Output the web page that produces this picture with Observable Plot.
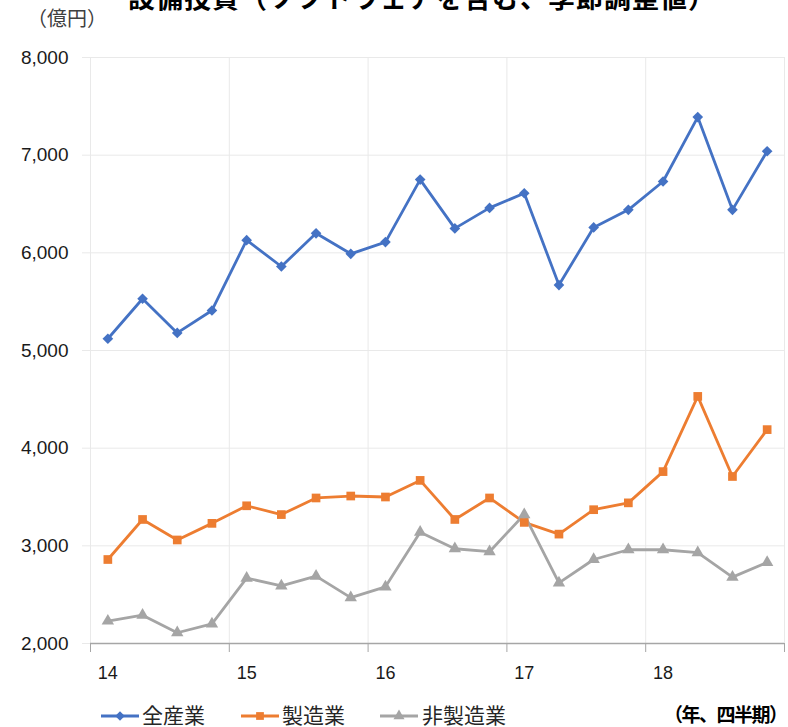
<!DOCTYPE html>
<html><head><meta charset="utf-8">
<script src="https://cdn.jsdelivr.net/npm/d3@7"></script>
<script src="https://cdn.jsdelivr.net/npm/@observablehq/plot@0.6"></script>
<style>
body{margin:0;background:#fff;}
#wrap{position:relative;width:788px;height:727px;overflow:hidden;font-family:"Noto Sans CJK JP",sans-serif;background:#fff;}
#title{position:absolute;top:-17px;left:128px;font-size:27px;line-height:27px;font-weight:bold;letter-spacing:1px;white-space:nowrap;color:#000;}
#unit{position:absolute;top:6px;left:27px;font-size:20px;line-height:24px;color:#404040;white-space:nowrap;}
#chart{position:absolute;top:0;left:0;}
.lg{position:absolute;top:702px;font-size:21px;line-height:24px;color:#262626;white-space:nowrap;}
.sw{position:absolute;top:708px;}
</style></head><body><div id="wrap">
<div id="title">設備投資（ソフトウェアを含む、季節調整値）</div>
<div id="unit">（億円）</div>
<div id="chart"></div>
</div>
<script>
const quarters = ["14Q1","14Q2","14Q3","14Q4","15Q1","15Q2","15Q3","15Q4","16Q1","16Q2","16Q3","16Q4","17Q1","17Q2","17Q3","17Q4","18Q1","18Q2","18Q3","18Q4"];
const yearLabels = ["14","15","16","17","18"];
const seriesNames = ["全産業","製造業","非製造業"];
const zensangyo = [5120,5530,5180,5410,6130,5860,6200,5990,6110,6750,6250,6460,6610,5670,6260,6440,6730,7390,6440,7040];
const seizogyo = [2860,3270,3060,3230,3410,3320,3490,3510,3500,3670,3270,3490,3240,3120,3370,3440,3760,4530,3710,4190];
const hiseizogyo = [2230,2290,2110,2200,2670,2590,2690,2470,2580,3140,2970,2940,3320,2620,2860,2960,2960,2930,2680,2830];
const yTicks = [2000,3000,4000,5000,6000,7000,8000];
const colors = ["#4472C4","#ED7D31","#A5A5A5"];
const symbols = ["diamond2","square","triangle"];
const radii = [4.8,4.9,4.6];
const seriesValues = [zensangyo, seizogyo, hiseizogyo];

const table = [];
seriesNames.forEach((s, k) => seriesValues[k].forEach((v, i) => table.push({series: s, k, i, q: quarters[i], value: v})));

const q1Idx = quarters.map((q, i) => q.endsWith("Q1") ? i : null).filter(i => i !== null);
const bounds = [...q1Idx.map(i => i - 0.5), quarters.length - 0.5];

const marks = [
  Plot.ruleY(yTicks.slice(1), {stroke: "#e9e9e9", strokeWidth: 1}),
  Plot.ruleX(bounds, {stroke: "#e9e9e9", strokeWidth: 1}),
  Plot.axisY(yTicks, {label: null, tickSize: 8, stroke: "#e9e9e9", tickPadding: 14, fontSize: 19, fill: "#1a1a1a", fontFamily: "Liberation Sans, Arial, sans-serif", tickFormat: d3.format(",")}),
  Plot.ruleY([2000], {stroke: "#a6a6a6", strokeWidth: 1.3}),
  Plot.axisX(bounds, {label: null, tickSize: 9, stroke: "#a6a6a6", tickFormat: () => ""}),
  Plot.axisX(q1Idx, {label: null, tickSize: 0, tickPadding: 23, fontSize: 18, fill: "#1a1a1a", fontFamily: "Liberation Sans, Arial, sans-serif", tickFormat: i => yearLabels[q1Idx.indexOf(i)]})
];
seriesNames.forEach((s, k) => {
  const d = table.filter(r => r.k === k);
  marks.push(Plot.line(d, {x: "i", y: "value", stroke: colors[k], strokeWidth: 2.8, strokeLinejoin: "round"}));
});
seriesNames.forEach((s, k) => {
  const d = table.filter(r => r.k === k);
  marks.push(Plot.dot(d, {x: "i", y: "value", symbol: () => symbols[k], fill: colors[k], stroke: "none", r: radii[k]}));
});

const chart = Plot.plot({
  width: 788, height: 680,
  marginTop: 57, marginBottom: 37, marginLeft: 90, marginRight: 4,
  x: {type: "linear", domain: [-0.5, quarters.length - 0.5], axis: null, label: null},
  y: {domain: [2000, 8000], axis: null, label: null},
  symbol: {type: "identity"},
  style: {background: "transparent", overflow: "visible"},
  marks
});
document.getElementById("chart").appendChild(chart);

// legend
const wrap = document.getElementById("wrap");
const legendPos = [{sw: 101, tx: 142}, {sw: 241, tx: 282}, {sw: 380, tx: 422}];
seriesNames.forEach((s, k) => {
  const sym = d3.symbol().type([d3.symbolDiamond2, d3.symbolSquare, d3.symbolTriangle][k]).size(Math.PI * radii[k] * radii[k] * 0.8)();
  const svg = document.createElementNS("http://www.w3.org/2000/svg", "svg");
  svg.setAttribute("width", 40); svg.setAttribute("height", 16);
  svg.setAttribute("class", "sw");
  svg.style.left = legendPos[k].sw + "px";
  svg.innerHTML = `<line x1="0" x2="38" y1="8" y2="8" stroke="${colors[k]}" stroke-width="2.8"/><path d="${sym}" transform="translate(19,8)" fill="${colors[k]}"/>`;
  wrap.appendChild(svg);
  const t = document.createElement("div");
  t.className = "lg"; t.style.left = legendPos[k].tx + "px"; t.textContent = s;
  wrap.appendChild(t);
});
const unitX = document.createElement("div");
unitX.className = "lg"; unitX.style.left = "664px"; unitX.style.fontWeight = "bold"; unitX.style.fontSize = "19px"; unitX.style.letterSpacing = "-1.5px"; unitX.style.color = "#000";
unitX.textContent = "（年、四半期）";
wrap.appendChild(unitX);
</script>
</body></html>
